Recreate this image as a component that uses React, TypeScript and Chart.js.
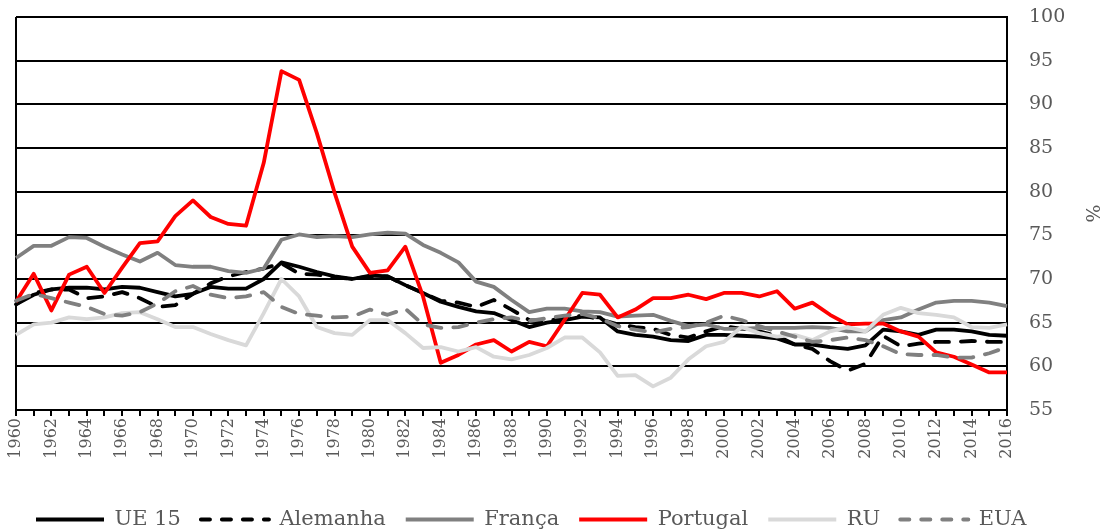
import React, { useEffect, useRef } from 'react';
import { Chart, registerables } from 'chart.js';

Chart.register(...registerables);

const years = [
  '1960','1961','1962','1963','1964','1965','1966','1967','1968','1969',
  '1970','1971','1972','1973','1974','1975','1976','1977','1978','1979',
  '1980','1981','1982','1983','1984','1985','1986','1987','1988','1989',
  '1990','1991','1992','1993','1994','1995','1996','1997','1998','1999',
  '2000','2001','2002','2003','2004','2005','2006','2007','2008','2009',
  '2010','2011','2012','2013','2014','2015','2016'
];

const ue15 = [
  67.1, 68.2, 68.8, 69.0, 69.0, 68.8, 69.1, 69.0, 68.5, 68.0,
  68.3, 69.1, 68.9, 68.9, 70.0, 71.9, 71.4, 70.8, 70.3, 70.0,
  70.4, 70.3, 69.3, 68.4, 67.4, 66.8, 66.3, 66.1, 65.3, 64.5,
  65.0, 65.3, 65.7, 65.6, 64.0, 63.6, 63.4, 63.0, 62.9, 63.6,
  63.6, 63.5, 63.4, 63.2, 62.5, 62.5, 62.2, 62.0, 62.4, 64.2,
  64.0, 63.6, 64.2, 64.2, 64.0, 63.6, 63.5
];

const alemanha = [
  67.1, 68.4, 68.8, 68.8, 67.8, 68.0, 68.5, 67.8, 66.8, 67.0,
  68.3, 69.5, 70.3, 70.8, 71.2, 71.8, 70.6, 70.5, 70.2, 70.0,
  70.3, 70.3, 69.3, 68.4, 67.5, 67.3, 66.8, 67.6, 66.5, 65.3,
  65.2, 65.5, 65.8, 65.4, 64.8, 64.5, 64.3, 63.6, 63.3, 64.0,
  64.6, 64.3, 64.0, 63.5, 62.5, 62.0, 60.6, 59.5, 60.3, 63.5,
  62.3, 62.6, 62.8, 62.8, 62.9, 62.8, 62.8
];

const franca = [
  72.4, 73.8, 73.8, 74.8, 74.7, 73.7, 72.8, 72.0, 73.0, 71.6,
  71.4, 71.4, 70.9, 70.7, 71.2, 74.5, 75.1, 74.8, 74.9, 74.8,
  75.1, 75.3, 75.2, 73.9, 73.0, 71.9, 69.7, 69.1, 67.6, 66.2,
  66.6, 66.6, 66.3, 66.2, 65.7, 65.8, 65.9, 65.2, 64.6, 64.8,
  64.3, 64.3, 64.4, 64.4, 64.4, 64.5, 64.4, 64.0, 64.0, 65.3,
  65.6, 66.5, 67.3, 67.5, 67.5, 67.3, 66.9
];

const portugal = [
  67.4, 70.6, 66.4, 70.5, 71.4, 68.4, 71.3, 74.1, 74.3, 77.2,
  79.0, 77.1, 76.3, 76.1, 83.3, 93.8, 92.8, 86.7, 79.9, 73.7,
  70.7, 71.0, 73.7, 68.0, 60.4, 61.3, 62.5, 63.0, 61.7, 62.8,
  62.3, 65.3, 68.4, 68.2, 65.6, 66.5, 67.8, 67.8, 68.2, 67.7,
  68.4, 68.4, 68.0, 68.6, 66.6, 67.3, 65.9, 64.8, 64.9, 64.9,
  64.0, 63.4, 61.6, 61.1, 60.2, 59.3, 59.3
];

const ru = [
  63.6, 64.8, 65.0, 65.6, 65.4, 65.6, 66.1, 66.2, 65.4, 64.5,
  64.5, 63.7, 63.0, 62.4, 66.1, 70.0, 68.0, 64.5, 63.8, 63.6,
  65.3, 65.3, 63.8, 62.1, 62.2, 61.7, 62.2, 61.1, 60.8, 61.3,
  62.1, 63.3, 63.3, 61.6, 58.9, 59.0, 57.7, 58.7, 60.8, 62.3,
  62.8, 64.5, 63.8, 63.4, 63.6, 63.0, 64.0, 64.5, 64.0, 65.9,
  66.7, 66.1, 65.9, 65.6, 64.5, 64.4, 64.8
];

const eua = [
  67.5, 68.3, 67.8, 67.3, 66.8, 66.0, 65.8, 66.2, 67.2, 68.6,
  69.2, 68.2, 67.8, 68.0, 68.5, 66.8, 66.0, 65.8, 65.6, 65.7,
  66.5, 65.9, 66.6, 64.8, 64.4, 64.5, 65.0, 65.4, 65.6, 65.2,
  65.5, 65.8, 66.0, 65.5, 64.6, 64.2, 63.9, 64.3, 64.5, 65.0,
  65.8, 65.3, 64.6, 64.0, 63.4, 62.8, 63.0, 63.3, 63.0, 62.3,
  61.4, 61.3, 61.3, 61.0, 61.0, 61.5, 62.2
];

const seriesNames = ['UE 15', 'Alemanha', 'França', 'Portugal', 'RU', 'EUA'];
const seriesColors = ['#000000', '#000000', '#808080', '#ff0000', '#d9d9d9', '#808080'];
const seriesDashed = [false, true, false, false, false, true];

const textColor = '#595959';
const fontFamily = '"DejaVu Serif", serif';
const dashPattern = [14, 12];

export default function App() {
  const ref = useRef<HTMLCanvasElement>(null);

  useEffect(() => {
    const values = [ue15, alemanha, franca, portugal, ru, eua];
    const datasets = values.map((data, i) => ({
      label: seriesNames[i],
      data,
      borderColor: seriesColors[i],
      backgroundColor: seriesColors[i],
      borderWidth: 3.8,
      borderDash: seriesDashed[i] ? dashPattern : [],
      borderCapStyle: seriesDashed[i] ? ('round' as const) : ('butt' as const),
      borderJoinStyle: 'round' as const,
      pointRadius: 0,
      pointHoverRadius: 0,
      tension: 0,
      fill: false,
      order: 10 - i,
    }));

    const chart = new Chart(ref.current!, {
      type: 'line',
      data: { labels: years, datasets },
      options: {
        responsive: false,
        animation: false,
        layout: { padding: { left: 16, top: 17, right: 0, bottom: 1 } },
        plugins: {
          tooltip: { enabled: false },
          legend: {
            position: 'bottom',
            align: 'start',
            labels: {
              usePointStyle: true,
              pointStyle: 'line',
              pointStyleWidth: 68,
              boxHeight: 21,
              padding: 20,
              color: textColor,
              font: { family: fontFamily, size: 21 },
              sort: (a: any, b: any) => a.datasetIndex - b.datasetIndex,
              generateLabels: (c: any) => {
                const items = Chart.defaults.plugins.legend.labels.generateLabels(c);
                return items.map((it: any) => ({
                  ...it,
                  lineDash: seriesDashed[it.datasetIndex] ? [9, 12] : [],
                  lineCap: seriesDashed[it.datasetIndex] ? 'round' : 'butt',
                  lineWidth: 4,
                  strokeStyle: seriesColors[it.datasetIndex],
                }));
              },
            },
          },
        },
        scales: {
          x: {
            type: 'category',
            grid: {
              drawOnChartArea: true,
              color: (ctx: any) => (ctx.index === 0 ? '#000000' : 'rgba(0,0,0,0)'),
              lineWidth: 2,
              tickColor: '#000000',
              tickLength: 6,
            },
            border: { color: '#000000', width: 2 },
            ticks: {
              autoSkip: false,
              maxRotation: 90,
              minRotation: 90,
              padding: 2,
              color: textColor,
              font: { family: fontFamily, size: 16 },
              callback: (_v: any, i: number) => (i % 2 === 0 ? years[i] : ''),
            },
            afterFit: (s: any) => {
              s.height = 79;
            },
          },
          y: {
            position: 'right',
            min: 55,
            max: 100,
            grid: {
              color: '#000000',
              lineWidth: 2,
              drawTicks: true,
              tickLength: 20,
              tickColor: 'rgba(0,0,0,0)',
            },
            border: { color: '#000000', width: 2 },
            ticks: {
              stepSize: 5,
              padding: 2,
              color: textColor,
              font: { family: fontFamily, size: 19 },
            },
            title: {
              display: true,
              text: '%',
              color: textColor,
              font: { family: fontFamily, size: 19 },
              padding: 0,
            },
            afterFit: (s: any) => {
              s.width = 95;
            },
          },
        },
      },
    });
    return () => chart.destroy();
  }, []);

  return (
    <div style={{ position: 'fixed', left: 0, top: 0, width: 1102, height: 531, overflow: 'hidden', background: '#fff' }}>
      <canvas ref={ref} width={1102} height={541} style={{ display: 'block' }} />
    </div>
  );
}
